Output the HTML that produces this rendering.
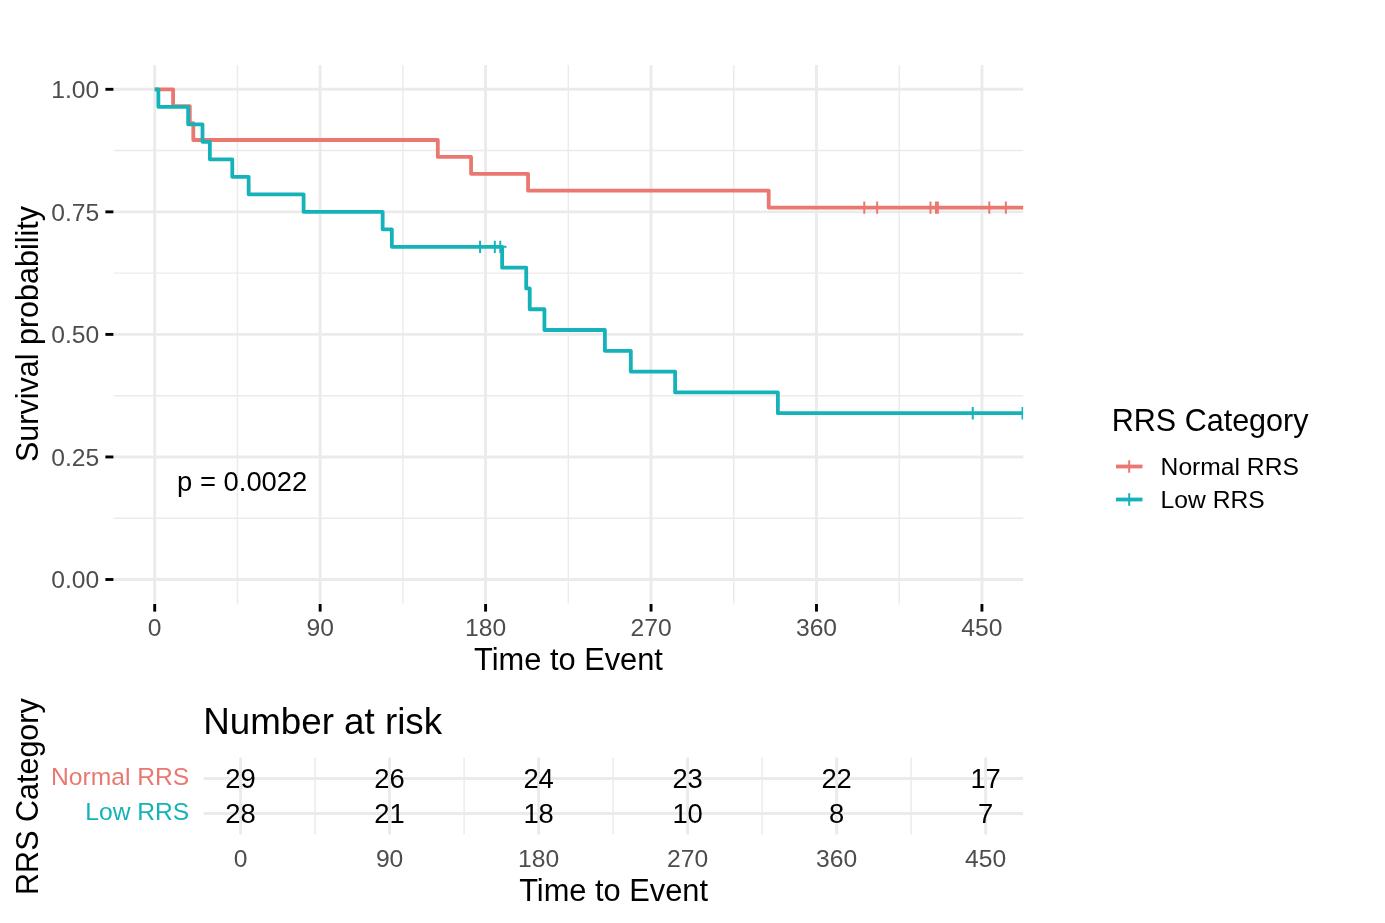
<!DOCTYPE html>
<html lang="en"><head><meta charset="utf-8"><title>Survival plot - RRS Category</title>
<style>html,body{margin:0;padding:0;background:#fff}body{width:1385px;height:923px;overflow:hidden}svg{display:block}text{font-family:"Liberation Sans", Arial, Helvetica, sans-serif}</style></head><body>
<svg width="1385" height="923" viewBox="0 0 1385 923">
<rect width="1385" height="923" fill="#fff"/>
<defs><clipPath id="cp"><rect x="113.7" y="65" width="909.5" height="538.5"/></clipPath></defs>
<g stroke="#EBEBEB" fill="none">
<line x1="113.7" x2="1023.2" y1="518.23" y2="518.23" stroke-width="1.45"/>
<line x1="113.7" x2="1023.2" y1="395.68" y2="395.68" stroke-width="1.45"/>
<line x1="113.7" x2="1023.2" y1="273.12" y2="273.12" stroke-width="1.45"/>
<line x1="113.7" x2="1023.2" y1="150.57" y2="150.57" stroke-width="1.45"/>
<line x1="237.42" x2="237.42" y1="65" y2="603.5" stroke-width="1.45"/>
<line x1="402.87" x2="402.87" y1="65" y2="603.5" stroke-width="1.45"/>
<line x1="568.32" x2="568.32" y1="65" y2="603.5" stroke-width="1.45"/>
<line x1="733.76" x2="733.76" y1="65" y2="603.5" stroke-width="1.45"/>
<line x1="899.21" x2="899.21" y1="65" y2="603.5" stroke-width="1.45"/>
<line x1="113.7" x2="1023.2" y1="579.5" y2="579.5" stroke-width="2.9"/>
<line x1="113.7" x2="1023.2" y1="456.95" y2="456.95" stroke-width="2.9"/>
<line x1="113.7" x2="1023.2" y1="334.4" y2="334.4" stroke-width="2.9"/>
<line x1="113.7" x2="1023.2" y1="211.85" y2="211.85" stroke-width="2.9"/>
<line x1="113.7" x2="1023.2" y1="89.3" y2="89.3" stroke-width="2.9"/>
<line x1="154.7" x2="154.7" y1="65" y2="603.5" stroke-width="2.9"/>
<line x1="320.15" x2="320.15" y1="65" y2="603.5" stroke-width="2.9"/>
<line x1="485.59" x2="485.59" y1="65" y2="603.5" stroke-width="2.9"/>
<line x1="651.04" x2="651.04" y1="65" y2="603.5" stroke-width="2.9"/>
<line x1="816.49" x2="816.49" y1="65" y2="603.5" stroke-width="2.9"/>
<line x1="981.93" x2="981.93" y1="65" y2="603.5" stroke-width="2.9"/>
</g>
<g clip-path="url(#cp)" fill="none" stroke-linejoin="round" stroke-linecap="butt">
<path d="M154.7 89.3 L173.08 89.3 L173.08 106.2 L189.81 106.2 L189.81 123.11 L193.3 123.11 L193.3 140.01 L437.8 140.01 L437.8 156.91 L471.07 156.91 L471.07 173.82 L528.06 173.82 L528.06 190.72 L768.69 190.72 L768.69 207.62 L1027.89 207.62" stroke="#EA7870" stroke-width="3.8"/>
<path d="M864.28 201.42V213.82M858.08 207.62H870.48M877.15 201.42V213.82M870.95 207.62H883.35M930.46 201.42V213.82M924.26 207.62H936.66M935.98 201.42V213.82M929.78 207.62H942.18M937.82 201.42V213.82M931.62 207.62H944.02M989.29 201.42V213.82M983.09 207.62H995.49M1005.83 201.42V213.82M999.63 207.62H1012.03" stroke="#EA7870" stroke-width="2.0"/>
<path d="M154.7 89.3 L158.38 89.3 L158.38 106.81 L188.16 106.81 L188.16 124.31 L202.5 124.31 L202.5 141.82 L209.85 141.82 L209.85 159.33 L232.28 159.33 L232.28 176.84 L248.64 176.84 L248.64 194.34 L303.6 194.34 L303.6 211.85 L382.65 211.85 L382.65 229.36 L391.84 229.36 L391.84 246.86 L502.14 246.86 L502.14 267.65 L526.22 267.65 L526.22 288.44 L529.71 288.44 L529.71 309.23 L544.42 309.23 L544.42 330.02 L604.9 330.02 L604.9 350.81 L630.82 350.81 L630.82 371.6 L675.12 371.6 L675.12 392.39 L777.88 392.39 L777.88 413.18 L1022.56 413.18" stroke="#15B3B9" stroke-width="3.8"/>
<path d="M480.08 240.66V253.06M473.88 246.86H486.28M494.79 240.66V253.06M488.59 246.86H500.99M500.3 240.66V253.06M494.1 246.86H506.5M972.74 406.98V419.38M966.54 413.18H978.94M1022.56 406.98V419.38M1016.36 413.18H1028.76" stroke="#15B3B9" stroke-width="2.0"/>
</g>
<g stroke="#000" stroke-width="2.9">
<line x1="105.4" x2="113.4" y1="579.5" y2="579.5"/>
<line x1="105.4" x2="113.4" y1="456.95" y2="456.95"/>
<line x1="105.4" x2="113.4" y1="334.4" y2="334.4"/>
<line x1="105.4" x2="113.4" y1="211.85" y2="211.85"/>
<line x1="105.4" x2="113.4" y1="89.3" y2="89.3"/>
<line x1="154.7" x2="154.7" y1="604" y2="611.6"/>
<line x1="320.15" x2="320.15" y1="604" y2="611.6"/>
<line x1="485.59" x2="485.59" y1="604" y2="611.6"/>
<line x1="651.04" x2="651.04" y1="604" y2="611.6"/>
<line x1="816.49" x2="816.49" y1="604" y2="611.6"/>
<line x1="981.93" x2="981.93" y1="604" y2="611.6"/>
</g>
<g fill="#4D4D4D" font-size="24.65">
<text x="99.2" y="588.35" text-anchor="end">0.00</text>
<text x="99.2" y="465.8" text-anchor="end">0.25</text>
<text x="99.2" y="343.25" text-anchor="end">0.50</text>
<text x="99.2" y="220.7" text-anchor="end">0.75</text>
<text x="99.2" y="98.15" text-anchor="end">1.00</text>
<text x="154.7" y="635.7" text-anchor="middle">0</text>
<text x="320.15" y="635.7" text-anchor="middle">90</text>
<text x="485.59" y="635.7" text-anchor="middle">180</text>
<text x="651.04" y="635.7" text-anchor="middle">270</text>
<text x="816.49" y="635.7" text-anchor="middle">360</text>
<text x="981.93" y="635.7" text-anchor="middle">450</text>
</g>
<g fill="#000">
<text x="568.5" y="670.4" text-anchor="middle" font-size="30.8">Time to Event</text>
<text transform="translate(38.1 334) rotate(-90)" text-anchor="middle" font-size="30.5">Survival probability</text>
<text x="177.1" y="491.2" font-size="27.4">p = 0.0022</text>
</g>
<text x="1111.8" y="431.3" font-size="30.5" fill="#000">RRS Category</text>
<path d="M1116 466.5H1142.5" stroke="#EA7870" stroke-width="3.8" fill="none"/>
<path d="M1129.2 460.3V472.7M1123 466.5H1135.4" stroke="#EA7870" stroke-width="2.0" fill="none"/>
<text x="1160.6" y="475" font-size="24.65" fill="#000">Normal RRS</text>
<path d="M1116 499.5H1142.5" stroke="#15B3B9" stroke-width="3.8" fill="none"/>
<path d="M1129.2 493.3V505.7M1123 499.5H1135.4" stroke="#15B3B9" stroke-width="2.0" fill="none"/>
<text x="1160.6" y="508.4" font-size="24.65" fill="#000">Low RRS</text>
<g stroke="#EBEBEB" fill="none">
<line x1="315.1" x2="315.1" y1="757.5" y2="834.5" stroke-width="1.45"/>
<line x1="464.11" x2="464.11" y1="757.5" y2="834.5" stroke-width="1.45"/>
<line x1="613.11" x2="613.11" y1="757.5" y2="834.5" stroke-width="1.45"/>
<line x1="762.11" x2="762.11" y1="757.5" y2="834.5" stroke-width="1.45"/>
<line x1="911.12" x2="911.12" y1="757.5" y2="834.5" stroke-width="1.45"/>
<line x1="203.6" x2="1023.2" y1="778.5" y2="778.5" stroke-width="2.9"/>
<line x1="203.6" x2="1023.2" y1="813.5" y2="813.5" stroke-width="2.9"/>
<line x1="240.6" x2="240.6" y1="757.5" y2="834.5" stroke-width="2.9"/>
<line x1="389.6" x2="389.6" y1="757.5" y2="834.5" stroke-width="2.9"/>
<line x1="538.61" x2="538.61" y1="757.5" y2="834.5" stroke-width="2.9"/>
<line x1="687.61" x2="687.61" y1="757.5" y2="834.5" stroke-width="2.9"/>
<line x1="836.62" x2="836.62" y1="757.5" y2="834.5" stroke-width="2.9"/>
<line x1="985.62" x2="985.62" y1="757.5" y2="834.5" stroke-width="2.9"/>
</g>
<text x="203.2" y="733.6" font-size="36.75" fill="#000">Number at risk</text>
<g fill="#000" font-size="27.4" text-anchor="middle">
<text x="240.6" y="788.3">29</text>
<text x="389.6" y="788.3">26</text>
<text x="538.61" y="788.3">24</text>
<text x="687.61" y="788.3">23</text>
<text x="836.62" y="788.3">22</text>
<text x="985.62" y="788.3">17</text>
<text x="240.6" y="823.3">28</text>
<text x="389.6" y="823.3">21</text>
<text x="538.61" y="823.3">18</text>
<text x="687.61" y="823.3">10</text>
<text x="836.62" y="823.3">8</text>
<text x="985.62" y="823.3">7</text>
</g>
<g font-size="24.65" text-anchor="end">
<text x="189.3" y="784.7" fill="#EA7870">Normal RRS</text>
<text x="189.3" y="819.8" fill="#15B3B9">Low RRS</text>
</g>
<g fill="#4D4D4D" font-size="24.65" text-anchor="middle">
<text x="240.6" y="866.9">0</text>
<text x="389.6" y="866.9">90</text>
<text x="538.61" y="866.9">180</text>
<text x="687.61" y="866.9">270</text>
<text x="836.62" y="866.9">360</text>
<text x="985.62" y="866.9">450</text>
</g>
<text x="613.6" y="900.9" text-anchor="middle" font-size="30.8" fill="#000">Time to Event</text>
<text transform="translate(38.1 796.6) rotate(-90)" text-anchor="middle" font-size="30.5" fill="#000">RRS Category</text>
</svg></body></html>
